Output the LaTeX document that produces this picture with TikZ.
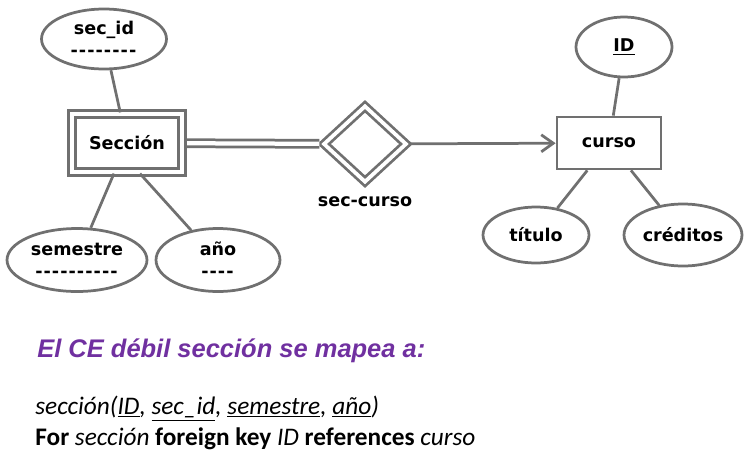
\documentclass[tikz,border=0pt]{standalone}
\usepackage{fontspec}
\usepackage{xcolor}
\usepackage{tikz}
\usetikzlibrary{shapes.geometric,arrows.meta}
\newfontfamily\erfont{DejaVu Sans}
\newfontfamily\calfont{Carlito}
\newfontfamily\headfont{Liberation Sans}
\definecolor{linegray}{HTML}{707070}
\definecolor{headpurple}{HTML}{7030A0}
\newcommand\dashes[1]{\foreach\k in {1,...,#1}{-\kern0.6pt}}

\begin{document}
\begin{tikzpicture}[x=0.02cm,y=-0.02cm,
    every node/.style={font=\erfont\bfseries\fontsize{10}{12.5}\selectfont},
    attr/.style={ellipse,draw=linegray,line width=0.055cm,fill=white,inner sep=0pt,align=center},
    ent/.style={rectangle,draw=linegray,line width=0.055cm,fill=white,inner sep=0pt},
    conn/.style={draw=linegray,line width=0.055cm}]
    \useasboundingbox (0,0) rectangle (750,460);
    % weak entity side
    \node[ent,double,double distance=0.085cm,minimum width=2.19cm,minimum height=1.17cm] (seccion) at (127,143) {Sección};
    \node[attr,minimum width=2.5cm,minimum height=1.2cm] (secid) at (104,39) {sec\_id\\\dashes{8}};
    \node[attr,minimum width=2.8cm,minimum height=1.26cm] (semestre) at (77,260) {semestre\\\dashes{10}};
    \node[attr,minimum width=2.48cm,minimum height=1.26cm] (anio) at (218,260) {año\\\dashes{4}};
    \node[diamond,draw=linegray,line width=0.055cm,double,double distance=0.075cm,fill=white,inner sep=0pt,minimum width=1.66cm,minimum height=1.53cm] (seccurso) at (365,144) {};
    \node (seccursolbl) at (365,202) {sec-curso};
    % strong entity side
    \node[ent,minimum width=2.08cm,minimum height=1.04cm] (curso) at (609,143) {curso};
    \node[attr,minimum width=1.92cm,minimum height=1.2cm] (id) at (624,47) {\underline{ID}};
    \node[attr,minimum width=2.12cm,minimum height=1.12cm] (titulo) at (536,235) {título};
    \node[attr,minimum width=2.36cm,minimum height=1.24cm] (creditos) at (683,235) {créditos};

    \draw[conn] (secid) -- (seccion);
    \draw[conn] (seccion) -- (semestre);
    \draw[conn] ([xshift=0.26cm]seccion.south) -- (anio);
    \draw[conn,double,double distance=0.085cm,shorten <=0.08cm,shorten >=0.06cm] (seccion) -- (seccurso);
    \draw[conn,shorten <=0.07cm,-{Straight Barb[length=0.24cm,width=0.34cm]}] (seccurso) -- (curso);
    \draw[conn] (id) -- (curso);
    \draw[conn] (curso) -- (titulo);
    \draw[conn] (curso) -- (creditos);

    \node[anchor=base west,inner sep=0pt,text=headpurple,font=\headfont\bfseries\itshape\fontsize{14.5}{17}\selectfont] (heading) at (37,357) {El CE débil sección se mapea a:};
    \node[anchor=base west,inner sep=0pt,font=\calfont\fontsize{14.4}{17}\selectfont] (schema) at (35,414) {\itshape sección(\underline{ID}, \underline{sec\_id}, \underline{semestre}, \underline{año})};
    \node[anchor=base west,inner sep=0pt,font=\calfont\fontsize{14.4}{17}\selectfont] (fkey) at (35,445) {\textbf{For} \textit{sección} \textbf{foreign key} \textit{ID} \textbf{references} \textit{curso}};
\end{tikzpicture}
\end{document}
